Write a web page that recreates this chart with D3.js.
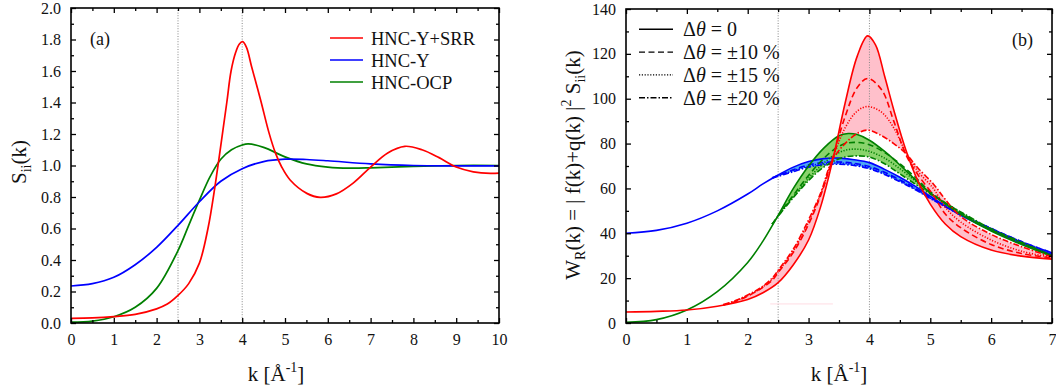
<!DOCTYPE html>
<html><head><meta charset="utf-8">
<script src="https://cdn.jsdelivr.net/npm/d3@7"></script>
<style>
html,body{margin:0;padding:0;background:#fff;}
svg{display:block;}
</style></head>
<body>
<svg id="chart" width="1056" height="389"></svg>
<script>
// ---------------- Panel (a): S_ii(k) ----------------
const kRedA = [0,0.5,1,1.5,2,2.25,2.5,2.75,3,3.2,3.36,3.45,3.64,3.74,3.85,3.93,4.01,4.1,4.22,4.43,4.63,4.78,4.92,5.12,5.51,5.82,6.2,6.6,7,7.4,7.8,8.2,8.6,9,9.4,9.8,10];
const sRedA = [0.03,0.032,0.04,0.055,0.09,0.12,0.175,0.25,0.38,0.6,0.86,1.03,1.4,1.6,1.72,1.77,1.786,1.75,1.627,1.416,1.204,1.077,0.992,0.908,0.823,0.798,0.82,0.89,0.99,1.08,1.122,1.10,1.05,0.99,0.96,0.95,0.952];
const kBlueA = [0,0.5,1,1.5,2,2.5,3,3.5,4,4.5,5,5.5,6,7,8,9,10];
const sBlueA = [0.235,0.25,0.29,0.37,0.48,0.62,0.77,0.9,0.98,1.025,1.04,1.038,1.03,1.01,1.0,0.998,0.998];
const kGreenA = [0,0.5,1,1.5,2,2.5,2.75,3,3.25,3.5,3.75,4,4.14,4.5,5,5.5,6,6.5,7,8,9,10];
const sGreenA = [0.005,0.012,0.04,0.1,0.22,0.46,0.62,0.78,0.93,1.04,1.1,1.13,1.137,1.115,1.055,1.01,0.99,0.983,0.985,0.995,1.0,1.0];
const legendA = ["HNC-Y+SRR","HNC-Y","HNC-OCP"];
const xTicksA = [0,1,2,3,4,5,6,7,8,9,10];
const yTicksA = [0,0.2,0.4,0.6,0.8,1.0,1.2,1.4,1.6,1.8,2.0];
const vLinesK = [2.5,4];

// ---------------- Panel (b): W_R(k) ----------------
const kRedB = [0,0.5,1,1.5,2,2.25,2.5,2.75,3,3.2,3.4,3.6,3.8,3.97,4.1,4.25,4.4,4.6,4.8,5,5.25,5.5,6,6.5,7];
const wRed0 = [4.9,5.2,5.8,7.5,10.5,13.5,18,26,37,52,73,98,119,128,124,110,95,77,63,53,44,38.5,32.5,29.8,28.5];
const kRedV = [1.6,1.8,2,2.2,2.4,2.5,2.75,3,3.2,3.38,3.6,3.8,3.97,4.2,4.4,4.6,4.8,5.05,5.25,5.5,6,6.5,7];
const wRed10 = [8,9.6,12,15,19,22.5,31.5,44,57,72,92,105,109,104,90,75,66,57,48.5,42.5,35,31,29];
const wRed15 = [8.1,9.8,12.2,15.2,19.5,23,32.2,45,57.5,72,87,94.5,96.5,94,87,76,67.5,60,51.5,45,37,32,29.3];
const wRed20 = [8.2,10,12.5,15.5,20,23.5,33,46,58,72,80,84.5,86,83.5,80,75.5,69,62,55,47.5,39.5,34,29.5];

const kGreenB = [0,0.5,1,1.5,2,2.25,2.5,2.75,3,3.25,3.5,3.65,3.8,4,4.25,4.5,4.75,5,5.25,5.5,6,6.5,7];
const wGreen0 = [0.3,1.5,5.8,14,27,36.5,48,60,70,78,83.5,84.5,84,81.5,76.5,70.5,64,58,53,48.5,41,35,29.7];
const kGreenV = [2.4,2.6,2.8,3,3.2,3.4,3.6,3.8,4,4.25,4.5,4.75,5,5.5,6,6.5,7];
const wGreen10 = [44,51.6,58.8,65.8,72,77,80,80.5,79.5,76,71,65,58.5,49.2,41.6,35.6,29.9];
const wGreen15 = [44,51.3,58,64.5,70,74.5,77,77.5,76.5,73.5,68.8,63.5,58,49.3,41.8,35.8,30];
const wGreen20 = [44,51,57.5,63.5,68.5,72,74,74.5,74,71,66.5,62,57.5,49.5,42,36,30];

const kBlueB = [0,0.5,1,1.5,2,2.25,2.5,2.75,3,3.25,3.5,3.75,4,4.25,4.5,4.75,5,5.5,6,6.5,7];
const wBlue0 = [40,41.3,44.5,50,57.5,62,66,69.5,72,73.3,73.5,72.8,71.5,68.5,65,61,56.5,48,41.5,35.5,30.5];
const kBlueV = [2.4,2.75,3,3.25,3.5,3.75,4,4.25,4.5,4.75,5,5.5,6,6.5,7];
const wBlue10 = [64.8,68.3,70.5,71.6,71.8,71.2,69.8,67.2,63.8,60.2,56,48.5,42.2,36.3,31.3];
const wBlue15 = [64.6,67.9,70,71,71.3,70.7,69.3,66.7,63.4,59.8,55.7,48.3,42.1,36.2,31.2];
const wBlue20 = [64.5,67.5,69.5,70.5,70.8,70.2,68.8,66.2,63,59.5,55.5,48.2,42,36.2,31.2];

const artifactK = [2.37,3.4];
const artifactW = [8.5,8.5];

const legendB = ["0","\u00B110 %","\u00B115 %","\u00B120 %"];
const xTicksB = [0,1,2,3,4,5,6,7];
const yTicksB = [0,20,40,60,80,100,120,140];

// ---------------- drawing ----------------
const FONT = "Liberation Serif";
const svg = d3.select("#chart").attr("font-family", FONT);
const RED="#ff0000", BLUE="#0000ff", GREEN="#008000";
const dashes = {solid:null, d10:"6,3.5", d15:"1.2,1.6", d20:"6,2,1.5,2"};
const zip = (ks, vs) => ks.map((k,i)=>[k, vs[i]]);

function frame(g, x, y, xt, xm, yt, ym, yFmt){
  const [x0,x1] = x.range(), [y0,y1] = y.range();
  const tk = 5, tm = 3;
  const ax = (gen, tr, vals, size, fmt, pad) => {
    const a = g.append("g").attr("transform", tr)
      .call(gen.tickValues(vals).tickSize(size).tickPadding(pad).tickFormat(fmt));
    a.attr("font-family", FONT).attr("font-size", 16);
    a.select(".domain").remove();
    a.selectAll("line").attr("stroke","#000").attr("stroke-width",1.3);
    a.selectAll("text").attr("fill","#111");
    return a;
  };
  ax(d3.axisBottom(x), `translate(0,${y0})`, xt, -tk, d3.format("d"), 11);
  ax(d3.axisBottom(x), `translate(0,${y0})`, xm, -tm, "", 11);
  ax(d3.axisTop(x), `translate(0,${y1})`, xt, -tk, "", 0);
  ax(d3.axisTop(x), `translate(0,${y1})`, xm, -tm, "", 0);
  ax(d3.axisLeft(y), `translate(${x0},0)`, yt, -tk, yFmt, 10);
  ax(d3.axisLeft(y), `translate(${x0},0)`, ym, -tm, "", 10);
  ax(d3.axisRight(y), `translate(${x1},0)`, yt, -tk, "", 0);
  ax(d3.axisRight(y), `translate(${x1},0)`, ym, -tm, "", 0);
  g.append("rect").attr("x",x0).attr("y",y1).attr("width",x1-x0).attr("height",y0-y1)
    .attr("fill","none").attr("stroke","#000").attr("stroke-width",1.6);
}

function vlines(g, x, y){
  g.selectAll(null).data(vLinesK).enter().append("line")
    .attr("x1",d=>x(d)).attr("x2",d=>x(d)).attr("y1",y.range()[0]).attr("y2",y.range()[1])
    .attr("stroke","#888").attr("stroke-width",1).attr("stroke-dasharray","1,1.6");
}

// ===== Panel (a) =====
const xA = d3.scaleLinear().domain([0,10]).range([71,499]);
const yA = d3.scaleLinear().domain([0,2]).range([323,8]);
const gA = svg.append("g");
vlines(gA, xA, yA);
const lineA = d3.line().x(d=>xA(d[0])).y(d=>yA(d[1])).curve(d3.curveCatmullRom.alpha(0.5));
const seriesA = [
  {pts: zip(kGreenA,sGreenA), c: GREEN},
  {pts: zip(kBlueA,sBlueA), c: BLUE},
  {pts: zip(kRedA,sRedA), c: RED}
];
seriesA.forEach(s=>{
  gA.append("path").attr("d", lineA(s.pts)).attr("fill","none").attr("stroke",s.c).attr("stroke-width",1.7);
});
frame(gA, xA, yA, xTicksA, d3.range(0.5,10,1), yTicksA, d3.range(0.1,2,0.2), d3.format(".1f"));
// legend (a)
const legColA = [RED, BLUE, GREEN];
legendA.forEach((t,i)=>{
  const yy = 38 + i*22;
  gA.append("line").attr("x1",330).attr("x2",363).attr("y1",yy).attr("y2",yy).attr("stroke",legColA[i]).attr("stroke-width",1.7);
  gA.append("text").attr("x",371).attr("y",yy+6.5).attr("font-size",18.5).attr("fill","#111").text(t);
});
gA.append("text").attr("x",90).attr("y",45).attr("font-size",18).attr("fill","#111").text("(a)");
// axis titles (a)
const xtA = gA.append("text").attr("x",276).attr("y",381).attr("text-anchor","middle").attr("font-size",21).attr("fill","#111");
xtA.append("tspan").text("k [\u00C5");
xtA.append("tspan").attr("dy",-9).attr("font-size",14).text("-1");
xtA.append("tspan").attr("dy",9).text("]");
const ytA = gA.append("text").attr("transform","translate(26,162) rotate(-90)").attr("text-anchor","middle").attr("font-size",21).attr("fill","#111");
ytA.append("tspan").text("S");
ytA.append("tspan").attr("dy",5).attr("font-size",14).text("ii");
ytA.append("tspan").attr("dy",-5).text("(k)");

// ===== Panel (b) =====
const xB = d3.scaleLinear().domain([0,7]).range([626,1052]);
const yB = d3.scaleLinear().domain([0,140]).range([323,9]);
const gB = svg.append("g");
const lineB = d3.line().x(d=>xB(d[0])).y(d=>yB(d[1])).curve(d3.curveCatmullRom.alpha(0.5));

function band(solidK, solidW, varK, varW, fill){
  const kmin = varK[0];
  const s = zip(solidK, solidW).filter(d=>d[0] > kmin);
  const v = zip(varK, varW);
  const top = [v[0]].concat(s);
  const back = v.slice().reverse();
  const d = lineB(top) + lineB(back).replace(/^M/,"L") + "Z";
  gB.append("path").attr("d", d).attr("fill", fill).attr("stroke","none");
}
band(kRedB, wRed0, kRedV, wRed20, "#ffc0cb");
band(kGreenB, wGreen0, kGreenV, wGreen20, "#8ad46c");
band(kBlueB, wBlue0, kBlueV, wBlue20, "#4da9f2");

vlines(gB, xB, yB);
gB.append("path").attr("d", lineB(zip(artifactK, artifactW))).attr("fill","none").attr("stroke","#ffdce3").attr("stroke-width",1);

const seriesB = [
  {k:kBlueB, w:wBlue0, c:BLUE, d:dashes.solid},
  {k:kBlueV, w:wBlue10, c:BLUE, d:dashes.d10},
  {k:kBlueV, w:wBlue15, c:BLUE, d:dashes.d15},
  {k:kBlueV, w:wBlue20, c:BLUE, d:dashes.d20},
  {k:kGreenB, w:wGreen0, c:GREEN, d:dashes.solid},
  {k:kGreenV, w:wGreen10, c:GREEN, d:dashes.d10},
  {k:kGreenV, w:wGreen15, c:GREEN, d:dashes.d15},
  {k:kGreenV, w:wGreen20, c:GREEN, d:dashes.d20},
  {k:kRedB, w:wRed0, c:RED, d:dashes.solid},
  {k:kRedV, w:wRed10, c:RED, d:dashes.d10},
  {k:kRedV, w:wRed15, c:RED, d:dashes.d15},
  {k:kRedV, w:wRed20, c:RED, d:dashes.d20}
];
seriesB.forEach(s=>{
  gB.append("path").attr("d", lineB(zip(s.k, s.w))).attr("fill","none").attr("stroke",s.c)
    .attr("stroke-width",1.6).attr("stroke-dasharray", s.d);
});
frame(gB, xB, yB, xTicksB, d3.range(0.5,7,1), yTicksB, d3.range(10,140,20), d3.format("d"));

// legend (b)
const legDash = [dashes.solid, dashes.d10, dashes.d15, dashes.d20];
legendB.forEach((t,i)=>{
  const yy = 29.3 + i*22.8;
  gB.append("line").attr("x1",639).attr("x2",673).attr("y1",yy).attr("y2",yy).attr("stroke","#000")
    .attr("stroke-width",1.4).attr("stroke-dasharray", legDash[i]);
  const tx = gB.append("text").attr("x",683).attr("y",yy+7).attr("font-size",20).attr("fill","#111");
  tx.append("tspan").text("\u0394");
  tx.append("tspan").attr("font-style","italic").text("\u03B8");
  tx.append("tspan").text(" = " + t);
});
gB.append("text").attr("x",1012).attr("y",46).attr("font-size",18).attr("fill","#111").text("(b)");
// axis titles (b)
const xtB = gB.append("text").attr("x",839).attr("y",381).attr("text-anchor","middle").attr("font-size",21).attr("fill","#111");
xtB.append("tspan").text("k [\u00C5");
xtB.append("tspan").attr("dy",-9).attr("font-size",14).text("-1");
xtB.append("tspan").attr("dy",9).text("]");
const ytB = gB.append("text").attr("transform","translate(580,165) rotate(-90)").attr("text-anchor","middle").attr("font-size",21).attr("fill","#111");
ytB.append("tspan").text("W");
ytB.append("tspan").attr("dy",5).attr("font-size",14).text("R");
ytB.append("tspan").attr("dy",-5).text("(k) = | f(k)+q(k) |");
ytB.append("tspan").attr("dy",-9).attr("font-size",14).text("2");
ytB.append("tspan").attr("dy",9).text(" S");
ytB.append("tspan").attr("dy",5).attr("font-size",14).text("ii");
ytB.append("tspan").attr("dy",-5).text("(k)");
</script>
</body></html>
